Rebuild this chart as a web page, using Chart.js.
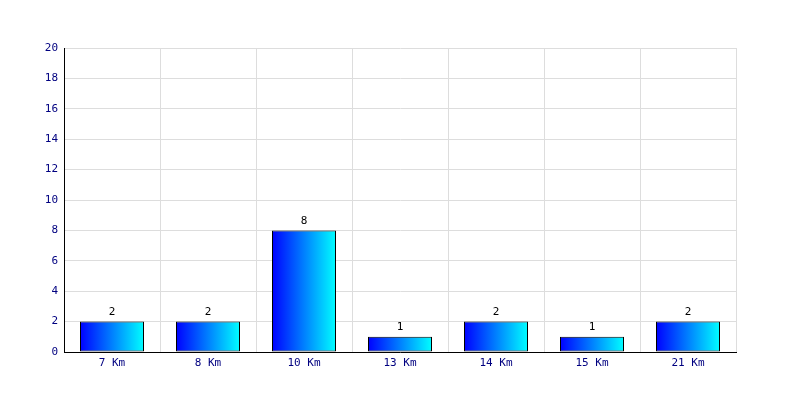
<!DOCTYPE html>
<html>
<head>
<meta charset="utf-8">
<script src="https://cdn.jsdelivr.net/npm/chart.js@4/dist/chart.umd.min.js"></script>
<style>
  html, body { margin: 0; padding: 0; background: #fff; }
  #wrap { width: 800px; height: 400px; }
</style>
</head>
<body>
<div id="wrap"><canvas id="distChart" width="800" height="400"></canvas></div>
<script>
const categories = ['7 Km', '8 Km', '10 Km', '13 Km', '14 Km', '15 Km', '21 Km'];
const counts = [2, 2, 8, 1, 2, 1, 2];
const yTicks = [0, 2, 4, 6, 8, 10, 12, 14, 16, 18, 20];

const FONT = { family: '"DejaVu Sans Mono", monospace', size: 11 };
const BAR_PCT = 2 / 3;

// paint each bar with its own left-to-right blue->cyan gradient once positions are known
const barGradients = {
  id: 'barGradients',
  beforeDatasetsDraw(chart) {
    const ctx = chart.ctx;
    chart.getDatasetMeta(0).data.forEach(bar => {
      const half = bar.width / 2;
      if (!isFinite(bar.x) || !isFinite(half)) return;
      const g = ctx.createLinearGradient(bar.x - half, 0, bar.x + half, 0);
      g.addColorStop(0, '#0000ff');
      g.addColorStop(1, '#00ffff');
      bar.options = Object.assign({}, bar.options, { backgroundColor: g });
    });
  }
};

const valueLabels = {
  id: 'valueLabels',
  afterDatasetsDraw(chart) {
    const ctx = chart.ctx;
    const meta = chart.getDatasetMeta(0);
    ctx.save();
    ctx.font = FONT.size + 'px ' + FONT.family;
    ctx.fillStyle = '#000';
    ctx.textAlign = 'center';
    ctx.textBaseline = 'bottom';
    meta.data.forEach((bar, i) => {
      ctx.fillText(String(counts[i]), bar.x, bar.y - 4);
    });
    ctx.restore();
  }
};

new Chart(document.getElementById('distChart'), {
  type: 'bar',
  data: {
    labels: categories,
    datasets: [{
      data: counts,
      backgroundColor: '#0000ff',
      borderColor: '#000',
      borderWidth: 1,
      borderSkipped: false,
      barPercentage: BAR_PCT,
      categoryPercentage: 1
    }]
  },
  options: {
    responsive: false,
    animation: false,
    layout: { padding: { top: 48, right: 64, bottom: 0, left: 0 } },
    plugins: { legend: { display: false }, tooltip: { enabled: false } },
    scales: {
      x: {
        grid: { color: '#dddddd', drawTicks: false, offset: true },
        border: { color: '#000', width: 1 },
        ticks: { color: '#000080', font: FONT, padding: 5 },
        afterFit(scale) { scale.height = 48; }
      },
      y: {
        min: 0,
        max: 20,
        afterBuildTicks(scale) { scale.ticks = yTicks.map(v => ({ value: v })); },
        grid: { color: '#dddddd', drawTicks: false },
        border: { color: '#000', width: 1 },
        ticks: { color: '#000080', font: FONT, padding: 6 },
        afterFit(scale) { scale.width = 64; }
      }
    }
  },
  plugins: [barGradients, valueLabels]
});
</script>
</body>
</html>
